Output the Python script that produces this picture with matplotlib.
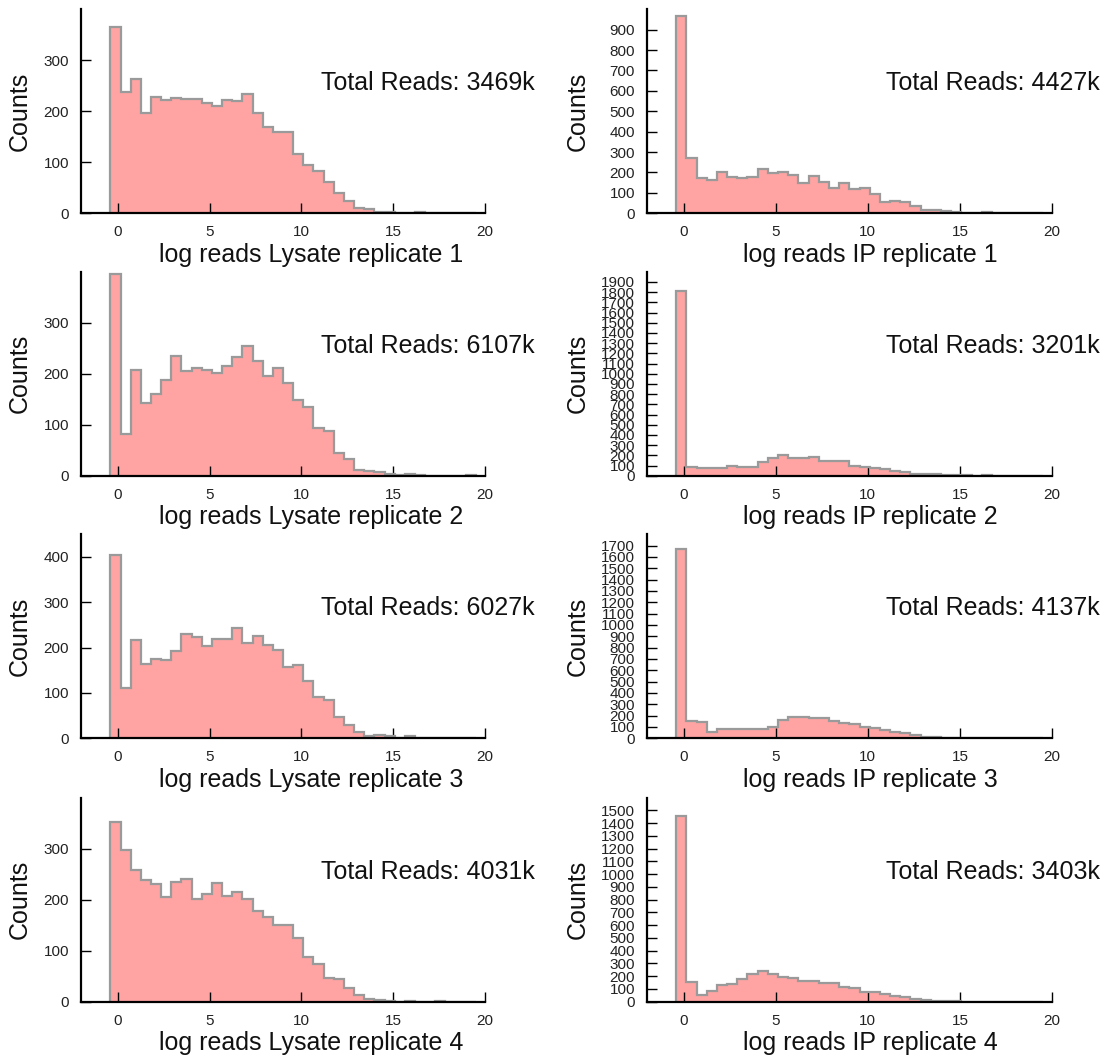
import numpy as np
import matplotlib
matplotlib.use("Agg")
import matplotlib.pyplot as plt

plt.rcParams['font.family'] = ['Liberation Sans', 'DejaVu Sans']

# ---- data ----
bin_start = -0.4
bin_width = 0.553
n_bins = 36

lysate1 = [365, 238, 264, 196, 228, 223, 226, 225, 224, 217, 211, 222, 220, 234, 196, 170, 159, 160,
           116, 95, 83, 62, 39, 24, 10, 8, 3, 2, 0, 0, 3, 0, 0, 0, 0, 0]
ip1 = [969, 270, 172, 163, 204, 176, 175, 180, 217, 199, 201, 188, 147, 183, 155, 123, 147, 118,
       126, 93, 57, 62, 57, 36, 16, 15, 13, 5, 3, 2, 5, 0, 0, 0, 0, 0]
lysate2 = [395, 82, 207, 142, 161, 187, 234, 205, 212, 208, 202, 215, 232, 254, 225, 196, 212, 181,
           148, 135, 94, 87, 45, 33, 11, 9, 7, 3, 2, 3, 1, 0, 0, 0, 0, 1]
ip2 = [1810, 82, 72, 72, 79, 95, 82, 82, 131, 177, 200, 177, 177, 187, 148, 144, 148, 95,
       82, 79, 62, 46, 33, 20, 16, 13, 10, 7, 3, 0, 2, 0, 0, 0, 0, 0]
lysate3 = [405, 111, 216, 164, 175, 172, 192, 230, 223, 204, 219, 219, 243, 210, 225, 206, 195, 157,
           162, 127, 92, 85, 46, 29, 15, 6, 8, 4, 1, 4, 0, 0, 0, 0, 0, 0]
ip3 = [1672, 156, 145, 59, 83, 80, 80, 80, 83, 97, 162, 186, 192, 183, 183, 150, 136, 124,
       103, 88, 74, 59, 44, 29, 15, 12, 6, 3, 0, 0, 0, 0, 0, 0, 0, 0]
lysate4 = [352, 298, 259, 239, 230, 205, 234, 240, 201, 212, 232, 208, 215, 202, 177, 167, 151, 151,
           124, 87, 74, 47, 45, 26, 14, 5, 3, 2, 0, 2, 0, 0, 1, 0, 0, 0]
ip4 = [1457, 151, 52, 86, 131, 136, 178, 217, 243, 214, 196, 188, 162, 164, 149, 144, 117, 104,
       78, 73, 57, 44, 34, 23, 13, 8, 5, 2, 0, 0, 0, 0, 0, 0, 0, 0]

series = [lysate1, ip1, lysate2, ip2, lysate3, ip3, lysate4, ip4]
xlabels = ["log reads Lysate replicate 1", "log reads IP replicate 1",
           "log reads Lysate replicate 2", "log reads IP replicate 2",
           "log reads Lysate replicate 3", "log reads IP replicate 3",
           "log reads Lysate replicate 4", "log reads IP replicate 4"]
total_reads = ["3469k", "4427k", "6107k", "3201k", "6027k", "4137k", "4031k", "3403k"]
ylims = [400, 1000, 400, 2000, 450, 1800, 400, 1600]
ytick_max = [300, 900, 300, 1900, 400, 1700, 300, 1500]
xticks = [0, 5, 10, 15, 20]

# ---- layout ----
W, H = 1109, 1059
fig = plt.figure(figsize=(W / 100, H / 100), dpi=100)
bottoms_px = [213.3, 475.7, 738.3, 1001.7]
ax_h_px = 204
col_left_px = [81, 646.7]
col_w_px = [404, 405.3]
label_x = [0.569, 0.551]
ylabel_x = [-0.121, -0.14]
text_x = [1.124, 1.118]

edges = bin_start + bin_width * np.arange(n_bins + 1)

for i, counts in enumerate(series):
    r, c = divmod(i, 2)
    ax = fig.add_axes([col_left_px[c] / W, (H - bottoms_px[r]) / H,
                       col_w_px[c] / W, ax_h_px / H])
    ax.stairs(counts, edges, fill=True, facecolor='#ffa3a3', edgecolor='none', zorder=1)
    ax.stairs(counts, edges, fill=False, baseline=0, color='#9a9a9a', linewidth=1.6, zorder=2)
    ax.set_xlim(-2, 20)
    ax.set_ylim(0, ylims[i])
    ax.set_xticks(xticks)
    ax.set_yticks(np.arange(0, ytick_max[i] + 1, 100))
    for s in ['top', 'right']:
        ax.spines[s].set_visible(False)
    for s in ['left', 'bottom']:
        ax.spines[s].set_linewidth(1.6)
        ax.spines[s].set_color('black')
        ax.spines[s].set_zorder(3)
    ax.tick_params(axis='both', direction='in', length=7, width=1.0, color='black',
                   labelsize=11, labelcolor='#222222', pad=8.5)
    ax.set_xlabel(xlabels[i], fontsize=18, color='#111111')
    ax.xaxis.set_label_coords(label_x[c], -0.145)
    ax.set_ylabel("Counts", fontsize=18, color='#111111')
    ax.yaxis.set_label_coords(ylabel_x[c], 0.5)
    ax.text(text_x[c], 0.603, "Total Reads: " + total_reads[i], transform=ax.transAxes,
            ha='right', va='baseline', fontsize=18, color='#111111', clip_on=False)
    ax.set_facecolor('none')

fig.savefig("out.png", dpi=100, facecolor='white')
